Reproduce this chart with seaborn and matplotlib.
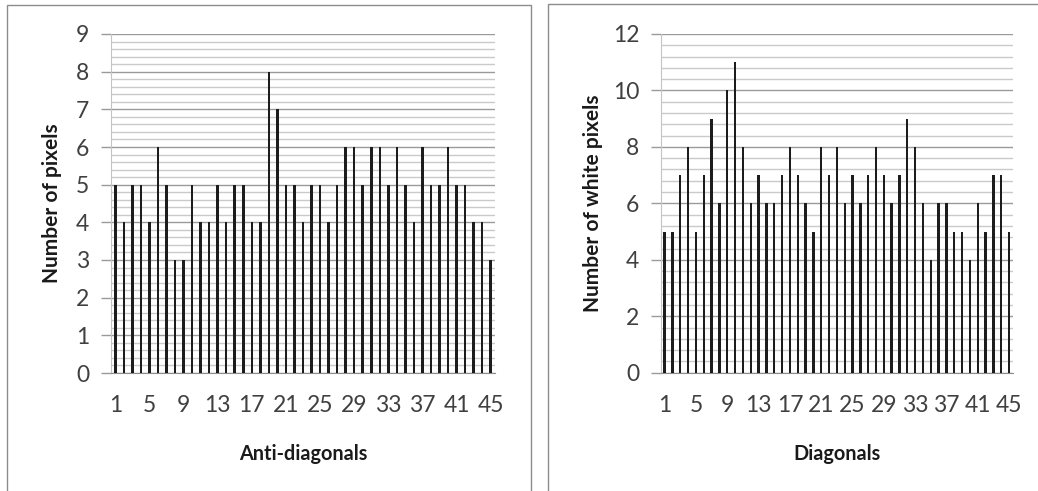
import matplotlib
matplotlib.use('Agg')
import matplotlib.pyplot as plt
from matplotlib.patches import Rectangle
from matplotlib.ticker import MultipleLocator
import seaborn as sns
import pandas as pd

# bar values (index 1..45)
positions = list(range(1, 46))
anti_diagonal_counts = [5, 4, 5, 5, 4, 6, 5, 3, 3, 5,
                        4, 4, 5, 4, 5, 5, 4, 4, 8, 7,
                        5, 5, 4, 5, 5, 4, 5, 6, 6, 5,
                        6, 6, 5, 6, 5, 4, 6, 5, 5, 6,
                        5, 5, 4, 4, 3]
diagonal_counts = [5, 5, 7, 8, 5, 7, 9, 6, 10, 11,
                   8, 6, 7, 6, 6, 7, 8, 7, 6, 5,
                   8, 7, 8, 6, 7, 6, 7, 8, 7, 6,
                   7, 9, 8, 6, 4, 6, 6, 5, 5, 4,
                   6, 5, 7, 7, 5]
shown_labels = [str(p) for p in positions[::4]]

sns.set_style('white')
plt.rcParams['font.family'] = ['Lato', 'DejaVu Sans']

fig = plt.figure(figsize=(10.38, 4.91), dpi=100)

# chart frames
fig.patches.append(Rectangle((7 / 1038, -0.02), 524 / 1038, 1.02 - 5 / 491,
                             transform=fig.transFigure, fill=False,
                             edgecolor='#8c8c8c', lw=1.0))
fig.patches.append(Rectangle((548 / 1038, -0.02), 500 / 1038, 1.02 - 4 / 491,
                             transform=fig.transFigure, fill=False,
                             edgecolor='#8c8c8c', lw=1.0))

ax1 = fig.add_axes([111 / 1038, 1 - 373 / 491, 384 / 1038, 339 / 491])
ax2 = fig.add_axes([660.7 / 1038, 1 - 372.7 / 491, 352.3 / 1038, 338.7 / 491])

panels = [
    (ax1, anti_diagonal_counts, 'Number of pixels', 'Anti-diagonals', 9, 1, (-0.128, 0.5)),
    (ax2, diagonal_counts, 'Number of white pixels', 'Diagonals', 12, 2, (-0.164, 0.5)),
]

for ax, values, ylab, xlab, ymax, step, ylab_pos in panels:
    df = pd.DataFrame({'pos': [str(p) for p in positions], 'count': values})
    sns.barplot(data=df, x='pos', y='count', ax=ax, color='#1c1c1c',
                width=0.3, saturation=1, linewidth=0, zorder=3)
    ax.set_xlim(-0.5, len(positions) - 0.5)
    ax.set_ylim(0, ymax)
    ax.yaxis.set_major_locator(MultipleLocator(step))
    ax.yaxis.set_minor_locator(MultipleLocator(step / 5))
    ax.set_xticks(range(0, len(positions), 4))
    ax.set_xticklabels(shown_labels)
    ax.grid(which='major', axis='y', color='#9a9a9a', lw=1.0, zorder=0)
    ax.grid(which='minor', axis='y', color='#cacaca', lw=1.0, zorder=0)
    ax.set_axisbelow(True)
    ax.tick_params(axis='y', which='major', length=7.5, width=1, color='#9a9a9a',
                   pad=8, labelsize=16.5, labelcolor='#404040', left=True)
    ax.tick_params(axis='y', which='minor', length=0)
    ax.tick_params(axis='x', length=0, pad=16, labelsize=16.5, labelcolor='#404040')
    for s in ['top', 'right']:
        ax.spines[s].set_visible(False)
    ax.spines['left'].set_color('#c4c4c4')
    ax.spines['bottom'].set_color('#8c8c8c')
    ax.set_ylabel(ylab, fontsize=15, fontweight='bold', color='#1a1a1a')
    ax.set_xlabel(xlab, fontsize=14.3, fontweight='bold', color='#1a1a1a')
    ax.yaxis.set_label_coords(*ylab_pos)
    ax.xaxis.set_label_coords(0.5, -0.21)
    ax.patch.set_alpha(0)

fig.savefig('out.png', dpi=100)
